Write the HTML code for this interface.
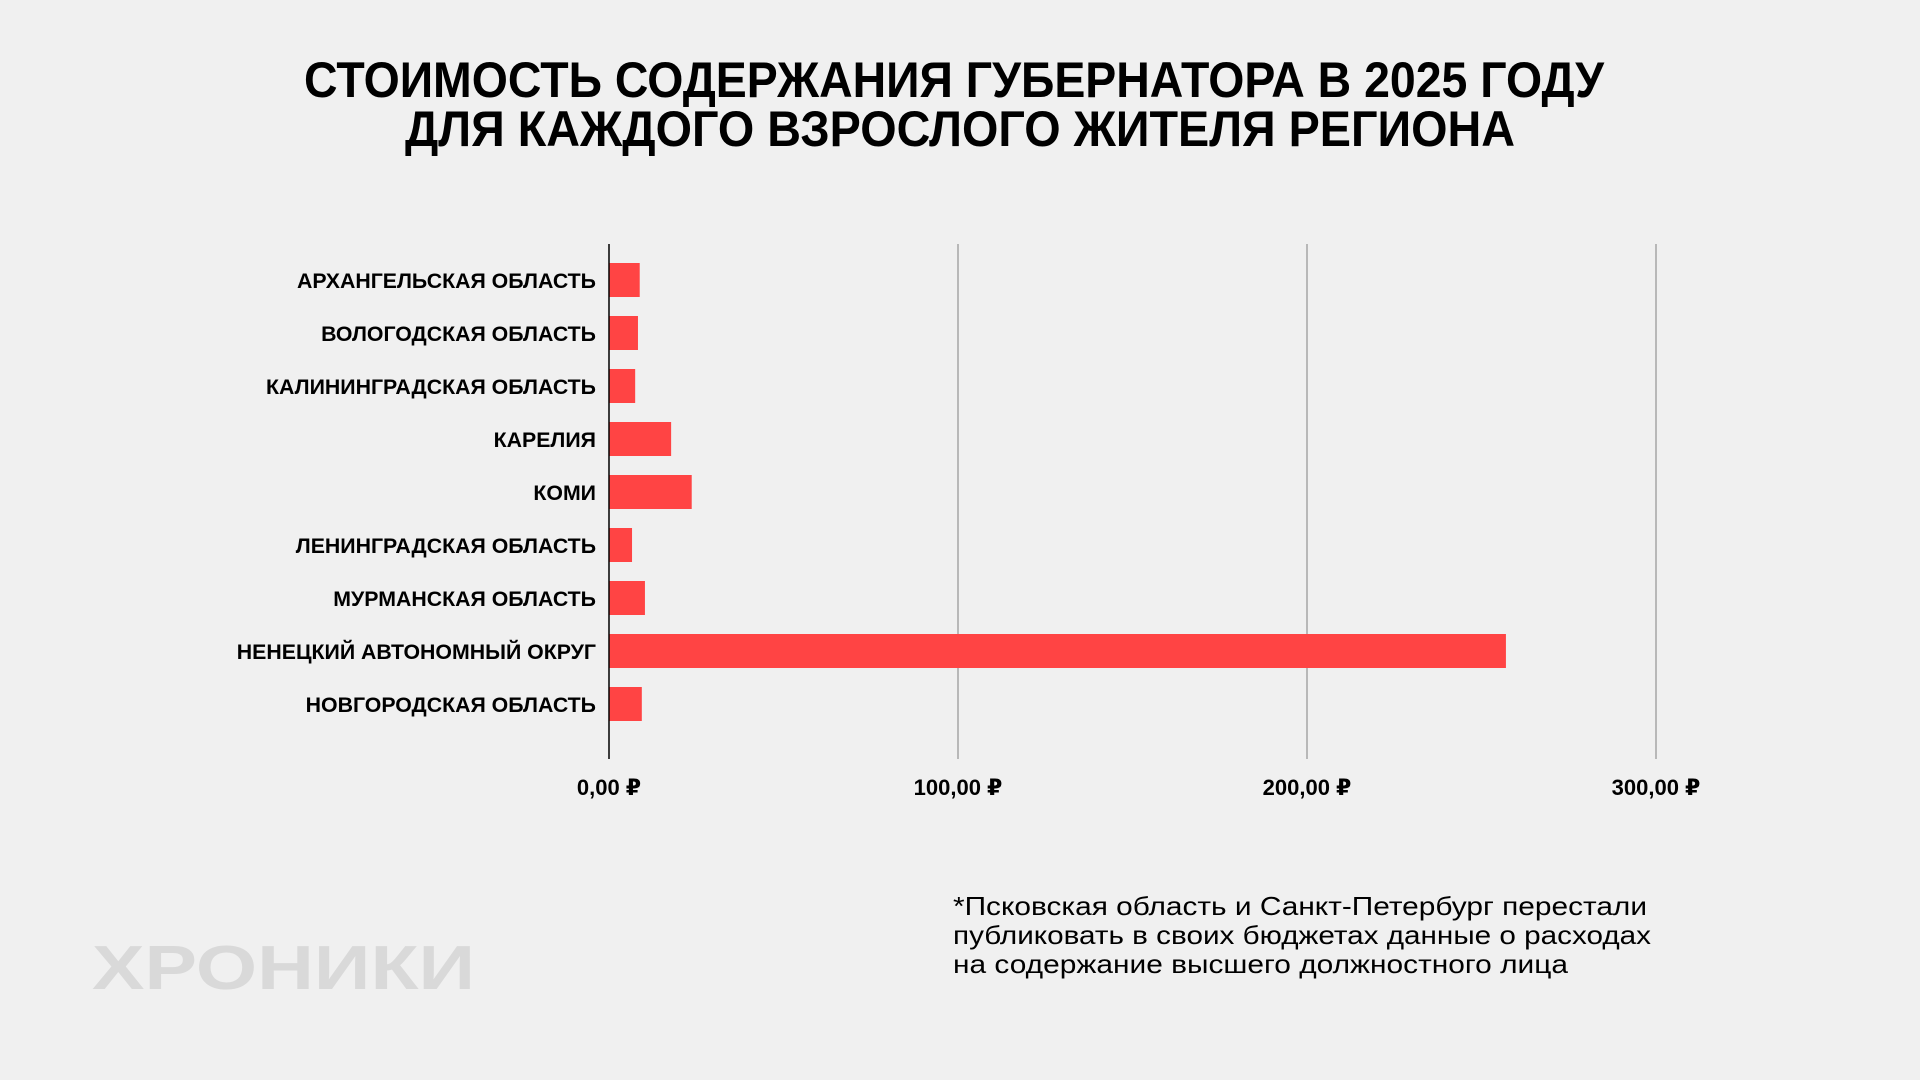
<!DOCTYPE html>
<html><head><meta charset="utf-8"><style>
html,body{margin:0;padding:0;background:#f0f0f0;}
svg{display:block;font-family:"Liberation Sans","DejaVu Sans",sans-serif;}
</style></head><body>
<svg id="chart" width="1920" height="1080" viewBox="0 0 1920 1080">
<rect width="1920" height="1080" fill="#f0f0f0"/>
<g>
<text x="954" y="97" text-anchor="middle" font-size="50" font-weight="bold" textLength="1300" lengthAdjust="spacingAndGlyphs" fill="#000">СТОИМОСТЬ СОДЕРЖАНИЯ ГУБЕРНАТОРА В 2025 ГОДУ</text>
<text x="960" y="146" text-anchor="middle" font-size="50" font-weight="bold" textLength="1110" lengthAdjust="spacingAndGlyphs" fill="#000">ДЛЯ КАЖДОГО ВЗРОСЛОГО ЖИТЕЛЯ РЕГИОНА</text>
</g>
<g id="grid"></g>
<g id="bars"></g>
<g id="labels"></g>
<g id="ticks"></g>
<line x1="609" y1="244" x2="609" y2="759" stroke="#000" stroke-width="1.5"/>
<g font-size="26" fill="#000">
<text x="953" y="915" textLength="694" lengthAdjust="spacingAndGlyphs">*Псковская область и Санкт-Петербург перестали</text>
<text x="953" y="944" textLength="698" lengthAdjust="spacingAndGlyphs">публиковать в своих бюджетах данные о расходах</text>
<text x="953" y="973" textLength="615" lengthAdjust="spacingAndGlyphs">на содержание высшего должностного лица</text>
</g>
<text x="92" y="989" font-size="62" font-weight="bold" fill="#d9d9d9" textLength="383" lengthAdjust="spacingAndGlyphs">ХРОНИКИ</text>
</svg>
<script>
const categories = ["АРХАНГЕЛЬСКАЯ ОБЛАСТЬ","ВОЛОГОДСКАЯ ОБЛАСТЬ","КАЛИНИНГРАДСКАЯ ОБЛАСТЬ","КАРЕЛИЯ","КОМИ","ЛЕНИНГРАДСКАЯ ОБЛАСТЬ","МУРМАНСКАЯ ОБЛАСТЬ","НЕНЕЦКИЙ АВТОНОМНЫЙ ОКРУГ","НОВГОРОДСКАЯ ОБЛАСТЬ"];
const values = [8.8, 8.3, 7.5, 17.8, 23.7, 6.6, 10.3, 257, 9.4];
const tickValues = [0, 100, 200, 300];
const tickLabels = ["0,00 ₽","100,00 ₽","200,00 ₽","300,00 ₽"];

const NS = "http://www.w3.org/2000/svg";
const x = v => 609 + v * 3.49;
const yc = i => 280 + i * 53;
const barH = 34;
function mk(tag, attrs, parent){ const e=document.createElementNS(NS,tag); for(const k in attrs) e.setAttribute(k,attrs[k]); parent.appendChild(e); return e; }
const grid=document.getElementById('grid'), bars=document.getElementById('bars'), labels=document.getElementById('labels'), ticks=document.getElementById('ticks');
tickValues.forEach((t,i)=>{
  if(t>0){
    const g=mk('line',{x1:x(t),x2:x(t),y1:244,y2:759,stroke:'#9a9a9a','stroke-width':1.3},grid);
    
    
  }
  const tl=mk('text',{x:x(t),y:795,'text-anchor':'middle','font-size':22,'font-weight':'bold',fill:'#000'},ticks);
  tl.textContent=tickLabels[i];
  
  
});
categories.forEach((c,i)=>{
  const r=mk('rect',{x:x(0),y:yc(i)-barH/2,width:x(values[i])-x(0),height:barH,fill:'#ff4444'},bars);
  
  
  const t=mk('text',{x:596,y:yc(i)+8,'text-anchor':'end','font-size':21.3,'font-weight':'bold',fill:'#000'},labels);
  t.textContent=c;
  
  
});
</script>
</body></html>
